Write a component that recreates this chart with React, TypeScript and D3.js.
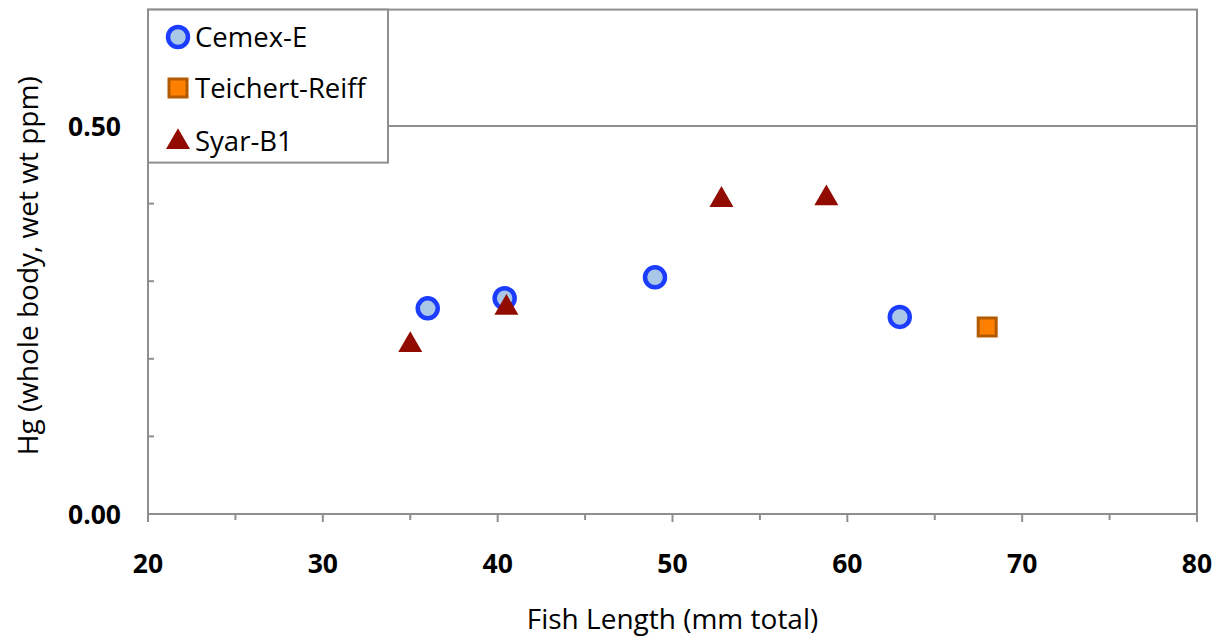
import React from "react";
import * as d3 from "d3";

// data
const cemexLength = [36.0, 40.4, 49.0, 63.0];
const cemexHg = [0.265, 0.278, 0.305, 0.254];
const teichertLength = [68.0];
const teichertHg = [0.241];
const syarLength = [35.0, 40.5, 52.8, 58.8];
const syarHg = [0.219, 0.267, 0.406, 0.408];

const xTicks = [20, 30, 40, 50, 60, 70, 80];
const xMinorTicks = [25, 35, 45, 55, 65, 75];
const yLabelTicks = [0, 0.5];
const yMinorTicks = [0.1, 0.2, 0.3, 0.4, 0.5, 0.6];

const legendItems = ["Cemex-E", "Teichert-Reiff", "Syar-B1"];

const W = 1224;
const H = 639;
const left = 148;
const right = 1197;
const top = 9.6;
const bottom = 514;

const axisColor = "#8e8e8e";
const font = "'Open Sans', 'DejaVu Sans', sans-serif";

function Circle({ x, y }: { x: number; y: number }) {
  return <circle cx={x} cy={y} r={10} fill="#a9c7e6" stroke="#1c3cff" strokeWidth={4.5} />;
}
function Square({ x, y }: { x: number; y: number }) {
  return (
    <rect x={x - 9} y={y - 9} width={18} height={18} fill="#ff8000" stroke="#b35a00" strokeWidth={3} />
  );
}
function Triangle({ x, y }: { x: number; y: number }) {
  const tri = d3.symbol().type(d3.symbolTriangle).size(250)();
  return <path d={tri || ""} transform={`translate(${x},${y + 1})`} fill="#920b00" />;
}

export default function App() {
  const x = d3.scaleLinear().domain([20, 80]).range([left, right]);
  const y = d3.scaleLinear().domain([0, 0.65]).range([bottom, top]);

  return (
    <svg width={W} height={H} style={{ position: "absolute", left: 0, top: 0, background: "#fff" }}>
      {/* plot frame */}
      <rect x={left} y={top} width={right - left} height={bottom - top} fill="#fff" stroke={axisColor} strokeWidth={2} />
      {/* major gridline at 0.5 */}
      <line x1={left} x2={right} y1={y(0.5)} y2={y(0.5)} stroke={axisColor} strokeWidth={2} />

      {/* y ticks (inside) */}
      {yMinorTicks.map((t) => (
        <line key={"ym" + t} x1={left} x2={left + 6} y1={y(t)} y2={y(t)} stroke={axisColor} strokeWidth={2} />
      ))}
      {yLabelTicks.map((t) => (
        <text
          key={"yl" + t}
          x={left - 27}
          y={y(t)}
          dy="0.36em"
          textAnchor="end"
          fontFamily={font}
          fontWeight="bold"
          fontSize={26.5}
          fill="#000"
        >
          {d3.format(".2f")(t)}
        </text>
      ))}

      {/* x ticks (outside) */}
      {xTicks.map((t) => (
        <g key={"x" + t}>
          <line x1={x(t)} x2={x(t)} y1={bottom} y2={bottom + 8} stroke={axisColor} strokeWidth={2} />
          <text
            x={x(t)}
            y={563}
            dy="0.36em"
            textAnchor="middle"
            fontFamily={font}
            fontWeight="bold"
            fontSize={26.5}
            fill="#000"
          >
            {t}
          </text>
        </g>
      ))}
      {xMinorTicks.map((t) => (
        <line key={"xm" + t} x1={x(t)} x2={x(t)} y1={bottom} y2={bottom + 6} stroke={axisColor} strokeWidth={2} />
      ))}

      {/* axis titles */}
      <text x={(left + right) / 2} y={629} textAnchor="middle" fontFamily={font} fontSize={28} fill="#000">
        Fish Length (mm total)
      </text>
      <text
        transform={`translate(${38},${(top + bottom) / 2 + 4}) rotate(-90)`}
        textAnchor="middle"
        fontFamily={font}
        fontSize={28}
        fill="#000"
      >
        Hg (whole body, wet wt ppm)
      </text>

      {/* points */}
      {cemexLength.map((d, i) => (
        <Circle key={"c" + i} x={x(d)} y={y(cemexHg[i])} />
      ))}
      {teichertLength.map((d, i) => (
        <Square key={"t" + i} x={x(d)} y={y(teichertHg[i])} />
      ))}
      {syarLength.map((d, i) => (
        <Triangle key={"s" + i} x={x(d)} y={y(syarHg[i])} />
      ))}

      {/* legend */}
      <g>
        <rect x={left} y={top} width={240} height={153} fill="#fff" stroke={axisColor} strokeWidth={2} />
        <Circle x={178} y={37} />
        <Square x={178} y={88} />
        <Triangle x={178} y={141} />
        {legendItems.map((name, i) => (
          <text key={name} x={195} y={[37, 88, 141][i]} dy="0.36em" fontFamily={font} fontSize={27.5} fill="#000">
            {name}
          </text>
        ))}
      </g>
    </svg>
  );
}
